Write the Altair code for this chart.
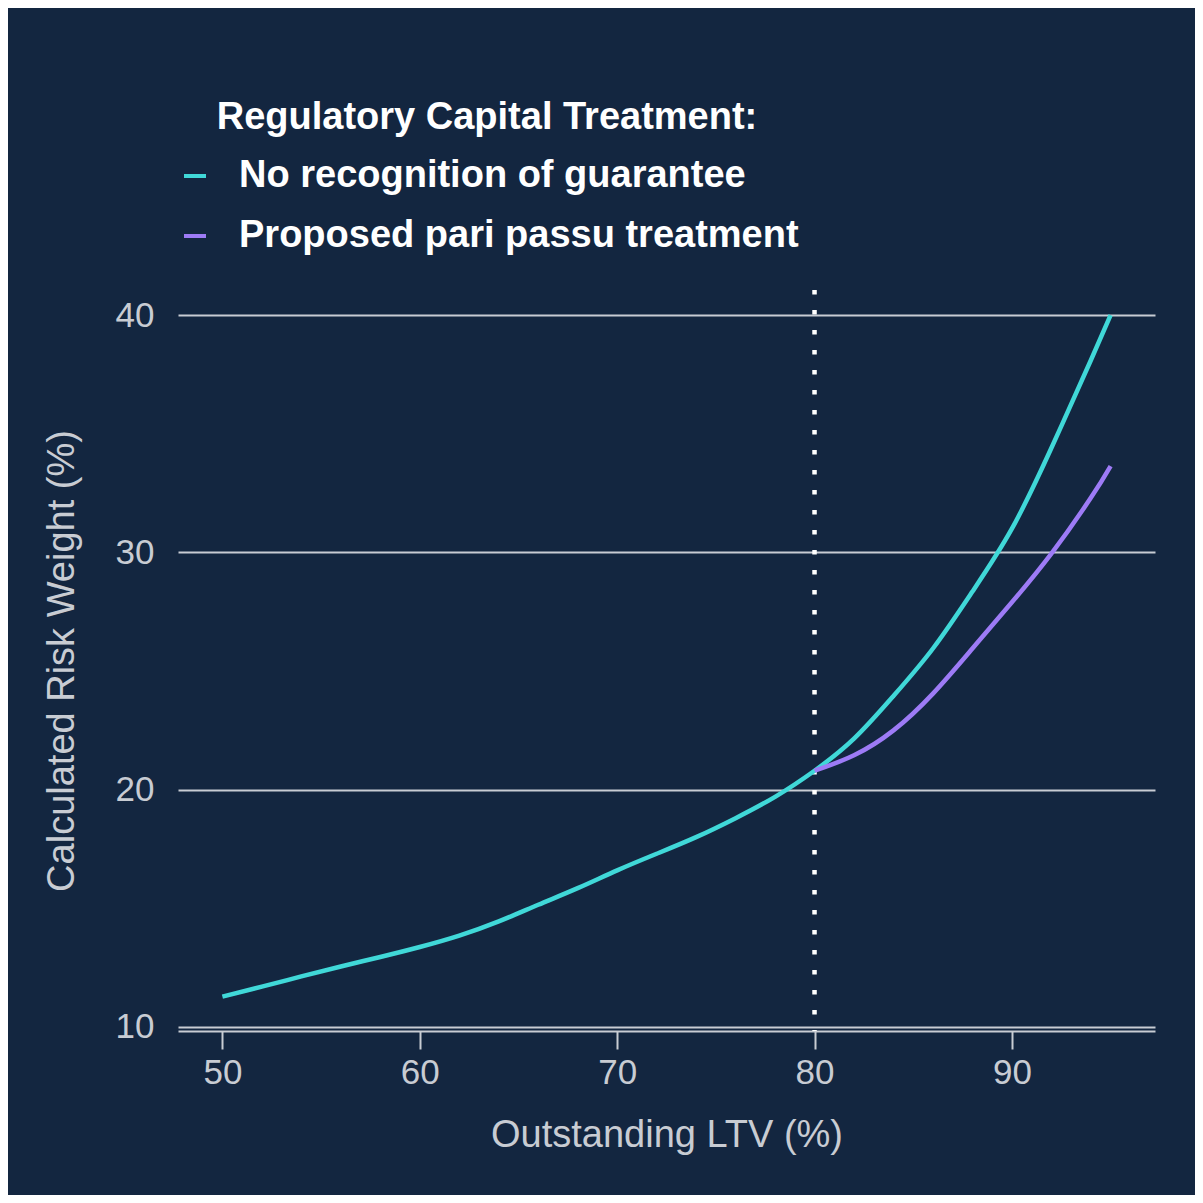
import altair as alt
import pandas as pd

# Data
ltv_base = [50, 52, 54, 56, 58, 60, 62, 64, 66, 68, 70, 72, 74, 76, 78, 80,
            82, 84, 86, 88, 90, 92, 94, 95]
rw_base = [11.28, 11.70, 12.13, 12.55, 12.95, 13.37, 13.85, 14.45, 15.15, 15.85,
           16.60, 17.30, 18.00, 18.80, 19.70, 20.80,
           22.15, 23.95, 25.95, 28.35, 31.00, 34.40, 38.10, 40.00]
ltv_pp = [80, 82, 84, 86, 88, 90, 92, 94, 95]
rw_pp = [20.80, 21.45, 22.50, 24.05, 25.95, 27.90, 29.95, 32.30, 33.64]

series_names = ["No recognition of guarantee", "Proposed pari passu treatment"]
series_colors = ["#40d8d8", "#9d7bf6"]
y_ticks = [10, 20, 30, 40]
x_ticks = [50, 60, 70, 80, 90]
threshold_ltv = [80]

df = pd.DataFrame(
    {"ltv": ltv_base + ltv_pp,
     "rw": rw_base + rw_pp,
     "series": [series_names[0]] * len(ltv_base) + [series_names[1]] * len(ltv_pp)}
)

BG = "#132640"
GREY = "#c8ccd3"
FONT = "Liberation Sans"

x_scale = alt.Scale(domain=[47.75, 97.25], nice=False, zero=False)
y_scale = alt.Scale(domain=[9.83, 41.06], nice=False, zero=False)

lines = alt.Chart(df).mark_line(strokeWidth=4.5, interpolate="natural").encode(
    x=alt.X("ltv:Q", scale=x_scale,
            axis=alt.Axis(title="Outstanding LTV (%)", values=x_ticks, grid=False,
                          domain=True, domainColor=GREY, domainWidth=2,
                          ticks=True, tickColor=GREY, tickWidth=2, tickSize=18,
                          labelPadding=6, titlePadding=26)),
    y=alt.Y("rw:Q", scale=y_scale,
            axis=alt.Axis(title="Calculated Risk Weight (%)", values=y_ticks,
                          grid=True, gridColor=GREY, gridWidth=2,
                          domain=False, ticks=False, labelPadding=24,
                          titlePadding=34)),
    color=alt.Color("series:N",
                    scale=alt.Scale(domain=series_names, range=series_colors),
                    legend=alt.Legend(
                        title="Regulatory Capital Treatment:",
                        orient="none", legendX=-2, legendY=-191,
                        titleAnchor="middle", titleFontSize=38, titleFont=FONT,
                        titleFontWeight="bold", titleColor="white",
                        titlePadding=20, labelFontSize=38, labelFont=FONT,
                        labelFontWeight="bold", labelColor="white",
                        labelOffset=25, symbolType="stroke", symbolSize=484,
                        symbolStrokeWidth=4, rowPadding=22, padding=0,
                        labelLimit=1000, titleLimit=1000)),
)

vline = alt.Chart(pd.DataFrame({"ltv": threshold_ltv})).mark_rule(
    color="white", strokeWidth=4.5, strokeDash=[4.5, 15.5]
).encode(x=alt.X("ltv:Q", scale=x_scale))

chart = (
    alt.layer(vline, lines)
    .properties(width=977, height=741, background=BG,
                padding={"left": 170, "top": 282, "right": 40, "bottom": 164},
                autosize=alt.AutoSizeParams(type="none"))
    .configure_view(stroke=None)
    .configure_axis(labelFont=FONT, labelFontSize=35, labelColor=GREY,
                    titleFont=FONT, titleFontSize=38, titleColor=GREY,
                    titleFontWeight="normal")
)

chart.save("out.html", embed_options={"renderer": "svg", "actions": False})
